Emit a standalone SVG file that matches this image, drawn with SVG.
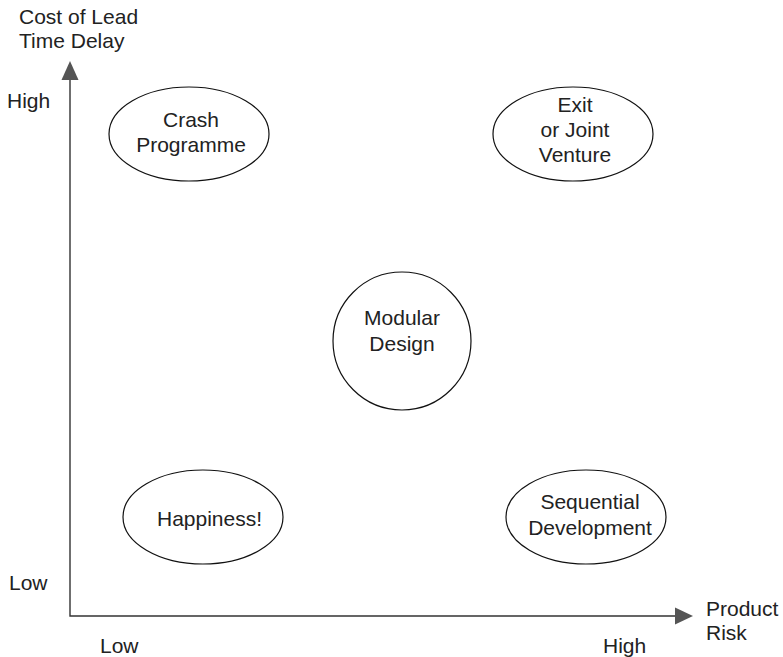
<svg xmlns="http://www.w3.org/2000/svg" width="783" height="657" viewBox="0 0 783 657">
  <defs>
    <style>
      text { font-family: "Liberation Sans", Arial, sans-serif; font-size: 21px; fill: #222; }
      .c { text-anchor: middle; }
      .node { fill: #fff; stroke: #111; stroke-width: 1.2; }
      .axis { stroke: #333; stroke-width: 1.4; fill: none; }
      .head { fill: #555; }
    </style>
  </defs>
  <rect width="783" height="657" fill="#fff"/>

  <!-- axes -->
  <g id="axes">
    <polyline class="axis" points="70,78 70,616 677,616"/>
    <polygon class="head" points="70,61 61.5,80 78.5,80"/>
    <polygon class="head" points="693,616 675,607.5 675,624.5"/>
  </g>

  <!-- axis labels -->
  <g id="labels">
    <text x="19" y="24">Cost of Lead</text>
    <text x="19" y="48">Time Delay</text>
    <text x="7" y="108">High</text>
    <text x="9" y="590">Low</text>
    <text x="100" y="653">Low</text>
    <text x="603" y="653">High</text>
    <text x="706" y="616">Product</text>
    <text x="706" y="640">Risk</text>
  </g>

  <g id="crash">
    <ellipse class="node" cx="189" cy="134" rx="80" ry="47"/>
    <text class="c" x="191" y="127">Crash</text>
    <text class="c" x="191" y="152">Programme</text>
  </g>

  <g id="exit">
    <ellipse class="node" cx="573" cy="134" rx="80" ry="47"/>
    <text class="c" x="575" y="112">Exit</text>
    <text class="c" x="575" y="137">or Joint</text>
    <text class="c" x="575" y="162">Venture</text>
  </g>

  <g id="modular">
    <circle class="node" cx="402" cy="341" r="69"/>
    <text class="c" x="402" y="325">Modular</text>
    <text class="c" x="402" y="351">Design</text>
  </g>

  <g id="happiness">
    <ellipse class="node" cx="203" cy="517" rx="80" ry="47"/>
    <text x="157" y="526">Happiness!</text>
  </g>

  <g id="sequential">
    <ellipse class="node" cx="586" cy="517" rx="80" ry="47"/>
    <text class="c" x="590" y="509">Sequential</text>
    <text class="c" x="590" y="535">Development</text>
  </g>
</svg>
